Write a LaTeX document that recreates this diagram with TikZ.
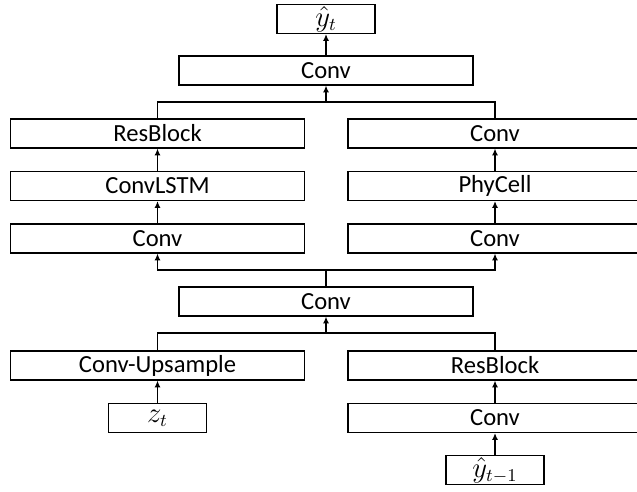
\documentclass[tikz,border=0pt]{standalone}
\usepackage{fontspec}
\setmainfont{Carlito}
\usetikzlibrary{arrows.meta}

\begin{document}
\begin{tikzpicture}[x=0.5pt, y=-0.5pt,
    box/.style={draw, line width=0.6pt, minimum width=147pt, minimum height=14.5pt,
        inner sep=0pt, font=\fontsize{12.3}{14}\selectfont},
    smallbox/.style={box, minimum width=49pt, font=\fontsize{13.5}{15}\selectfont},
    arr/.style={-{Latex[length=3.4pt,width=3pt]}, line width=0.6pt},
    wire/.style={line width=0.6pt}]
    \useasboundingbox (0,0) rectangle (637,492);

    %output part
        \node[smallbox] (yt) at (326,19) {$\hat{y}_t$};
        \node[box] (convout) at (326,70.5) {Conv};

    %two branches
        \node[box] (resL) at (157.5,133.5) {ResBlock};
        \node[box] (lstm) at (157.5,186) {ConvLSTM};
        \node[box] (convL) at (157.5,238.5) {Conv};
        \node[box] (convRa) at (495,133.5) {Conv};
        \node[box] (phy) at (495,186) {PhyCell};
        \node[box] (convRb) at (495,238.5) {Conv};

    %merge and inputs
        \node[box] (convmid) at (326,301.5) {Conv};
        \node[box] (upsamp) at (157.5,365.5) {Conv-Upsample};
        \node[box] (resR) at (495,365.5) {ResBlock};
        \node[smallbox] (zt) at (157.5,418) {$z_t$};
        \node[box] (convRc) at (495,418) {Conv};
        \node[smallbox] (ytprev) at (495,470) {$\hat{y}_{t-1}$};

    %junction points
        \coordinate (jtop) at (326,102);
        \coordinate (jmid) at (326,270);
        \coordinate (jbot) at (326,333);

    %connectors
        \draw[arr] (convout) -- (yt);
        \draw[wire] (resL.north) |- (jtop) -| (convRa.north);
        \draw[arr] (jtop) -- (convout.south);
        \draw[arr] (lstm) -- (resL);
        \draw[arr] (convL) -- (lstm);
        \draw[arr] (phy) -- (convRa);
        \draw[arr] (convRb) -- (phy);
        \draw[wire] (convmid.north) -- (jmid);
        \draw[arr] (jmid) -| (convL.south);
        \draw[arr] (jmid) -| (convRb.south);
        \draw[wire] (upsamp.north) |- (jbot) -| (resR.north);
        \draw[arr] (jbot) -- (convmid.south);
        \draw[arr] (zt) -- (upsamp);
        \draw[arr] (convRc) -- (resR);
        \draw[arr] (ytprev) -- (convRc);
\end{tikzpicture}
\end{document}
